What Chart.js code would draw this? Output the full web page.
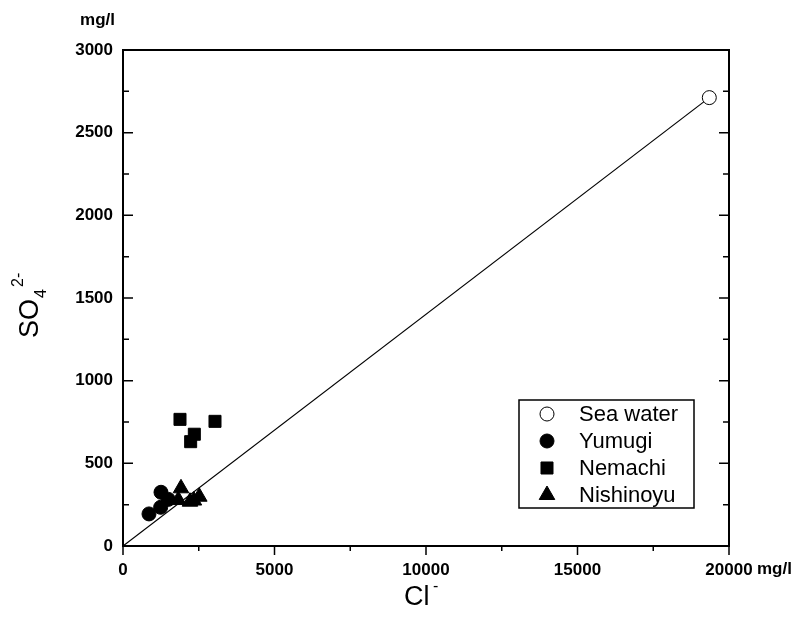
<!DOCTYPE html>
<html>
<head>
<meta charset="utf-8">
<script src="https://cdn.jsdelivr.net/npm/chart.js@4.4.1/dist/chart.umd.min.js"></script>
<style>
  html, body { margin: 0; background: #fff; }
  #wrap { width: 797px; height: 617px; }
</style>
</head>
<body>
<div id="wrap"><canvas id="chart"></canvas></div>
<script>
// Cl- (mg/l) and SO4 2- (mg/l)
const seaWaterCl = [19350];
const seaWaterSO4 = [2712];
const yumugiCl = [858, 1243, 1254, 1496];
const yumugiSO4 = [194, 234, 325, 282];
const nemachiCl = [1881, 3036, 2354, 2233];
const nemachiSO4 = [766, 754, 676, 631];
const nishinoyuCl = [1914, 1826, 2211, 2518, 2340];
const nishinoyuSO4 = [349, 278, 268, 298, 275];
const mixingLineCl = [0, 19350];
const mixingLineSO4 = [0, 2712];

const xTicks = [0, 5000, 10000, 15000, 20000];
const yTicks = [0, 500, 1000, 1500, 2000, 2500, 3000];

const pts = (xs, ys) => xs.map((x, i) => ({ x, y: ys[i] }));
const FONT = "'Liberation Sans', Arial, sans-serif";

const series = [
  { label: 'Sea water', pointStyle: 'circle', radius: 7, fill: '#fff' },
  { label: 'Yumugi', pointStyle: 'circle', radius: 7, fill: '#000' },
  { label: 'Nemachi', pointStyle: 'rect', radius: 8.5, fill: '#000' },
  { label: 'Nishinoyu', pointStyle: 'triangle', radius: 9, fill: '#000' }
];

function marker(ctx, style, r, x, y) {
  ctx.beginPath();
  if (style === 'circle') {
    ctx.arc(x, y, r, 0, Math.PI * 2);
  } else if (style === 'rect') {
    const s = r * Math.SQRT1_2;
    ctx.rect(x - s, y - s, 2 * s, 2 * s);
  } else {
    ctx.moveTo(x, y - r);
    ctx.lineTo(x + r * Math.sin(2 * Math.PI / 3), y + r / 2);
    ctx.lineTo(x - r * Math.sin(2 * Math.PI / 3), y + r / 2);
    ctx.closePath();
  }
  ctx.fill();
  ctx.stroke();
}

const framePlugin = {
  id: 'frame',
  afterDraw(chart) {
    const { ctx, chartArea: a, scales: { x, y } } = chart;
    ctx.save();
    ctx.strokeStyle = '#000';
    ctx.lineWidth = 2;
    ctx.strokeRect(a.left, a.top, a.right - a.left, a.bottom - a.top);

    ctx.lineWidth = 1.5;
    ctx.beginPath();
    // bottom ticks, outward
    for (let v = 0; v <= 20000; v += 2500) {
      const px = x.getPixelForValue(v);
      const len = v % 5000 === 0 ? 9 : 5;
      ctx.moveTo(px, a.bottom);
      ctx.lineTo(px, a.bottom + len);
    }
    // left and right ticks, inward
    for (let v = 250; v < 3000; v += 250) {
      const py = y.getPixelForValue(v);
      const len = v % 500 === 0 ? 10 : 6;
      ctx.moveTo(a.left, py);
      ctx.lineTo(a.left + len, py);
      ctx.moveTo(a.right, py);
      ctx.lineTo(a.right - len, py);
    }
    ctx.stroke();

    // units
    ctx.fillStyle = '#000';
    ctx.font = 'bold 17px ' + FONT;
    ctx.textAlign = 'right';
    ctx.textBaseline = 'alphabetic';
    ctx.fillText('mg/l', 115, 25);
    ctx.textAlign = 'left';
    ctx.fillText('mg/l', 757, 574);

    // x title: Cl-
    ctx.font = '27px ' + FONT;
    ctx.fillText('Cl', 404, 605);
    ctx.font = '16px ' + FONT;
    ctx.fillText('-', 433, 591);

    // y title: SO4 2-
    ctx.save();
    ctx.translate(38, 338);
    ctx.rotate(-Math.PI / 2);
    ctx.font = '27px ' + FONT;
    ctx.fillText('SO', 0, 0);
    const w = ctx.measureText('SO').width;
    ctx.font = '16px ' + FONT;
    ctx.fillText('4', w + 1, 8);
    ctx.fillText('2-', w + 12, -15);
    ctx.restore();

    // legend
    ctx.lineWidth = 1.5;
    ctx.strokeRect(519, 400, 175, 108);
    ctx.font = '22px ' + FONT;
    ctx.textBaseline = 'middle';
    series.forEach((s, i) => {
      const cy = 414 + i * 27;
      ctx.fillStyle = s.fill;
      ctx.strokeStyle = '#000';
      ctx.lineWidth = 1;
      marker(ctx, s.pointStyle, s.radius, 547, cy);
      ctx.fillStyle = '#000';
      ctx.fillText(s.label, 579, cy + 1);
    });
    ctx.restore();
  }
};

const datasets = [
  {
    type: 'line', label: 'line', data: pts(mixingLineCl, mixingLineSO4),
    borderColor: '#000', borderWidth: 1.2, pointRadius: 0, fill: false, order: 5
  },
  ...[
    [seaWaterCl, seaWaterSO4],
    [yumugiCl, yumugiSO4],
    [nemachiCl, nemachiSO4],
    [nishinoyuCl, nishinoyuSO4]
  ].map(([xs, ys], i) => ({
    label: series[i].label,
    data: pts(xs, ys),
    pointStyle: series[i].pointStyle,
    pointRadius: series[i].radius,
    pointHoverRadius: series[i].radius,
    backgroundColor: series[i].fill,
    borderColor: '#000',
    borderWidth: 1,
    order: 1
  }))
];

const tickFont = { family: FONT, size: 17, weight: 'bold' };

new Chart(document.getElementById('chart'), {
  type: 'scatter',
  data: { datasets },
  plugins: [framePlugin],
  options: {
    responsive: true,
    maintainAspectRatio: false,
    animation: false,
    layout: { padding: { left: 0, top: 50, right: 68, bottom: 0 } },
    plugins: { legend: { display: false }, tooltip: { enabled: false } },
    scales: {
      x: {
        type: 'linear', min: 0, max: 20000,
        afterBuildTicks: scale => { scale.ticks = xTicks.map(value => ({ value })); },
        afterFit: scale => { scale.height = 71; },
        grid: { display: false, drawTicks: false },
        border: { display: false },
        ticks: { color: '#000', padding: 14, font: tickFont, maxRotation: 0, callback: v => String(v) }
      },
      y: {
        type: 'linear', min: 0, max: 3000,
        afterBuildTicks: scale => { scale.ticks = yTicks.map(value => ({ value })); },
        afterFit: scale => { scale.width = 123; },
        grid: { display: false, drawTicks: false },
        border: { display: false },
        ticks: { color: '#000', padding: 10, font: tickFont, callback: v => String(v) }
      }
    }
  }
});
</script>
</body>
</html>
